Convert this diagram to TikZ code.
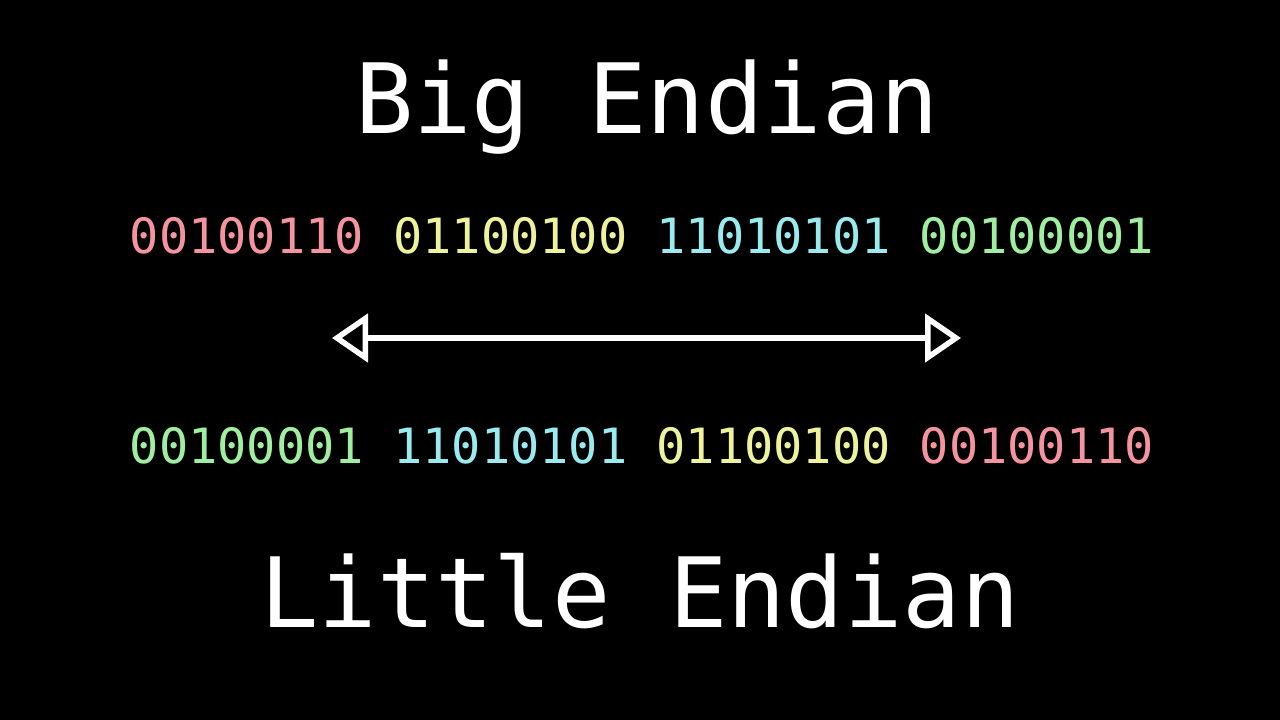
\documentclass[tikz,border=0pt]{standalone}
\usepackage{fontspec}
\setmonofont{DejaVu Sans Mono}
\usetikzlibrary{arrows.meta}
\definecolor{bpink}{HTML}{F5939F}
\definecolor{byellow}{HTML}{EEF39B}
\definecolor{bcyan}{HTML}{99EBF0}
\definecolor{bgreen}{HTML}{A0EFA0}
\tikzset{
  title/.style={text=white, font=\ttfamily\fontsize{97}{97}\selectfont, anchor=base, inner sep=0pt},
  bits/.style={font=\ttfamily\fontsize{48.6}{48.6}\selectfont, anchor=base, inner sep=0pt},
  dblarrow/.style={draw=white, line width=5.5pt, {Triangle[open, length=36pt, width=48pt]}-{Triangle[open, length=36pt, width=48pt]}}
}
\begin{document}
\begin{tikzpicture}[x=1pt,y=-1pt]
\fill[black] (0,0) rectangle (1280,720);
\useasboundingbox (0,0) rectangle (1280,720);
\node[title] (big) at (647,133) {Big Endian};
\node[bits] (row1) at (642,253) {\textcolor{bpink}{00100110} \textcolor{byellow}{01100100} \textcolor{bcyan}{11010101} \textcolor{bgreen}{00100001}};
\coordinate (la) at (332,338);
\coordinate (ra) at (961,338);
\draw[dblarrow] (la) -- (ra);
\node[bits] (row2) at (642,463) {\textcolor{bgreen}{00100001} \textcolor{bcyan}{11010101} \textcolor{byellow}{01100100} \textcolor{bpink}{00100110}};
\node[title] (little) at (640,627) {Little Endian};
\end{tikzpicture}
\end{document}
